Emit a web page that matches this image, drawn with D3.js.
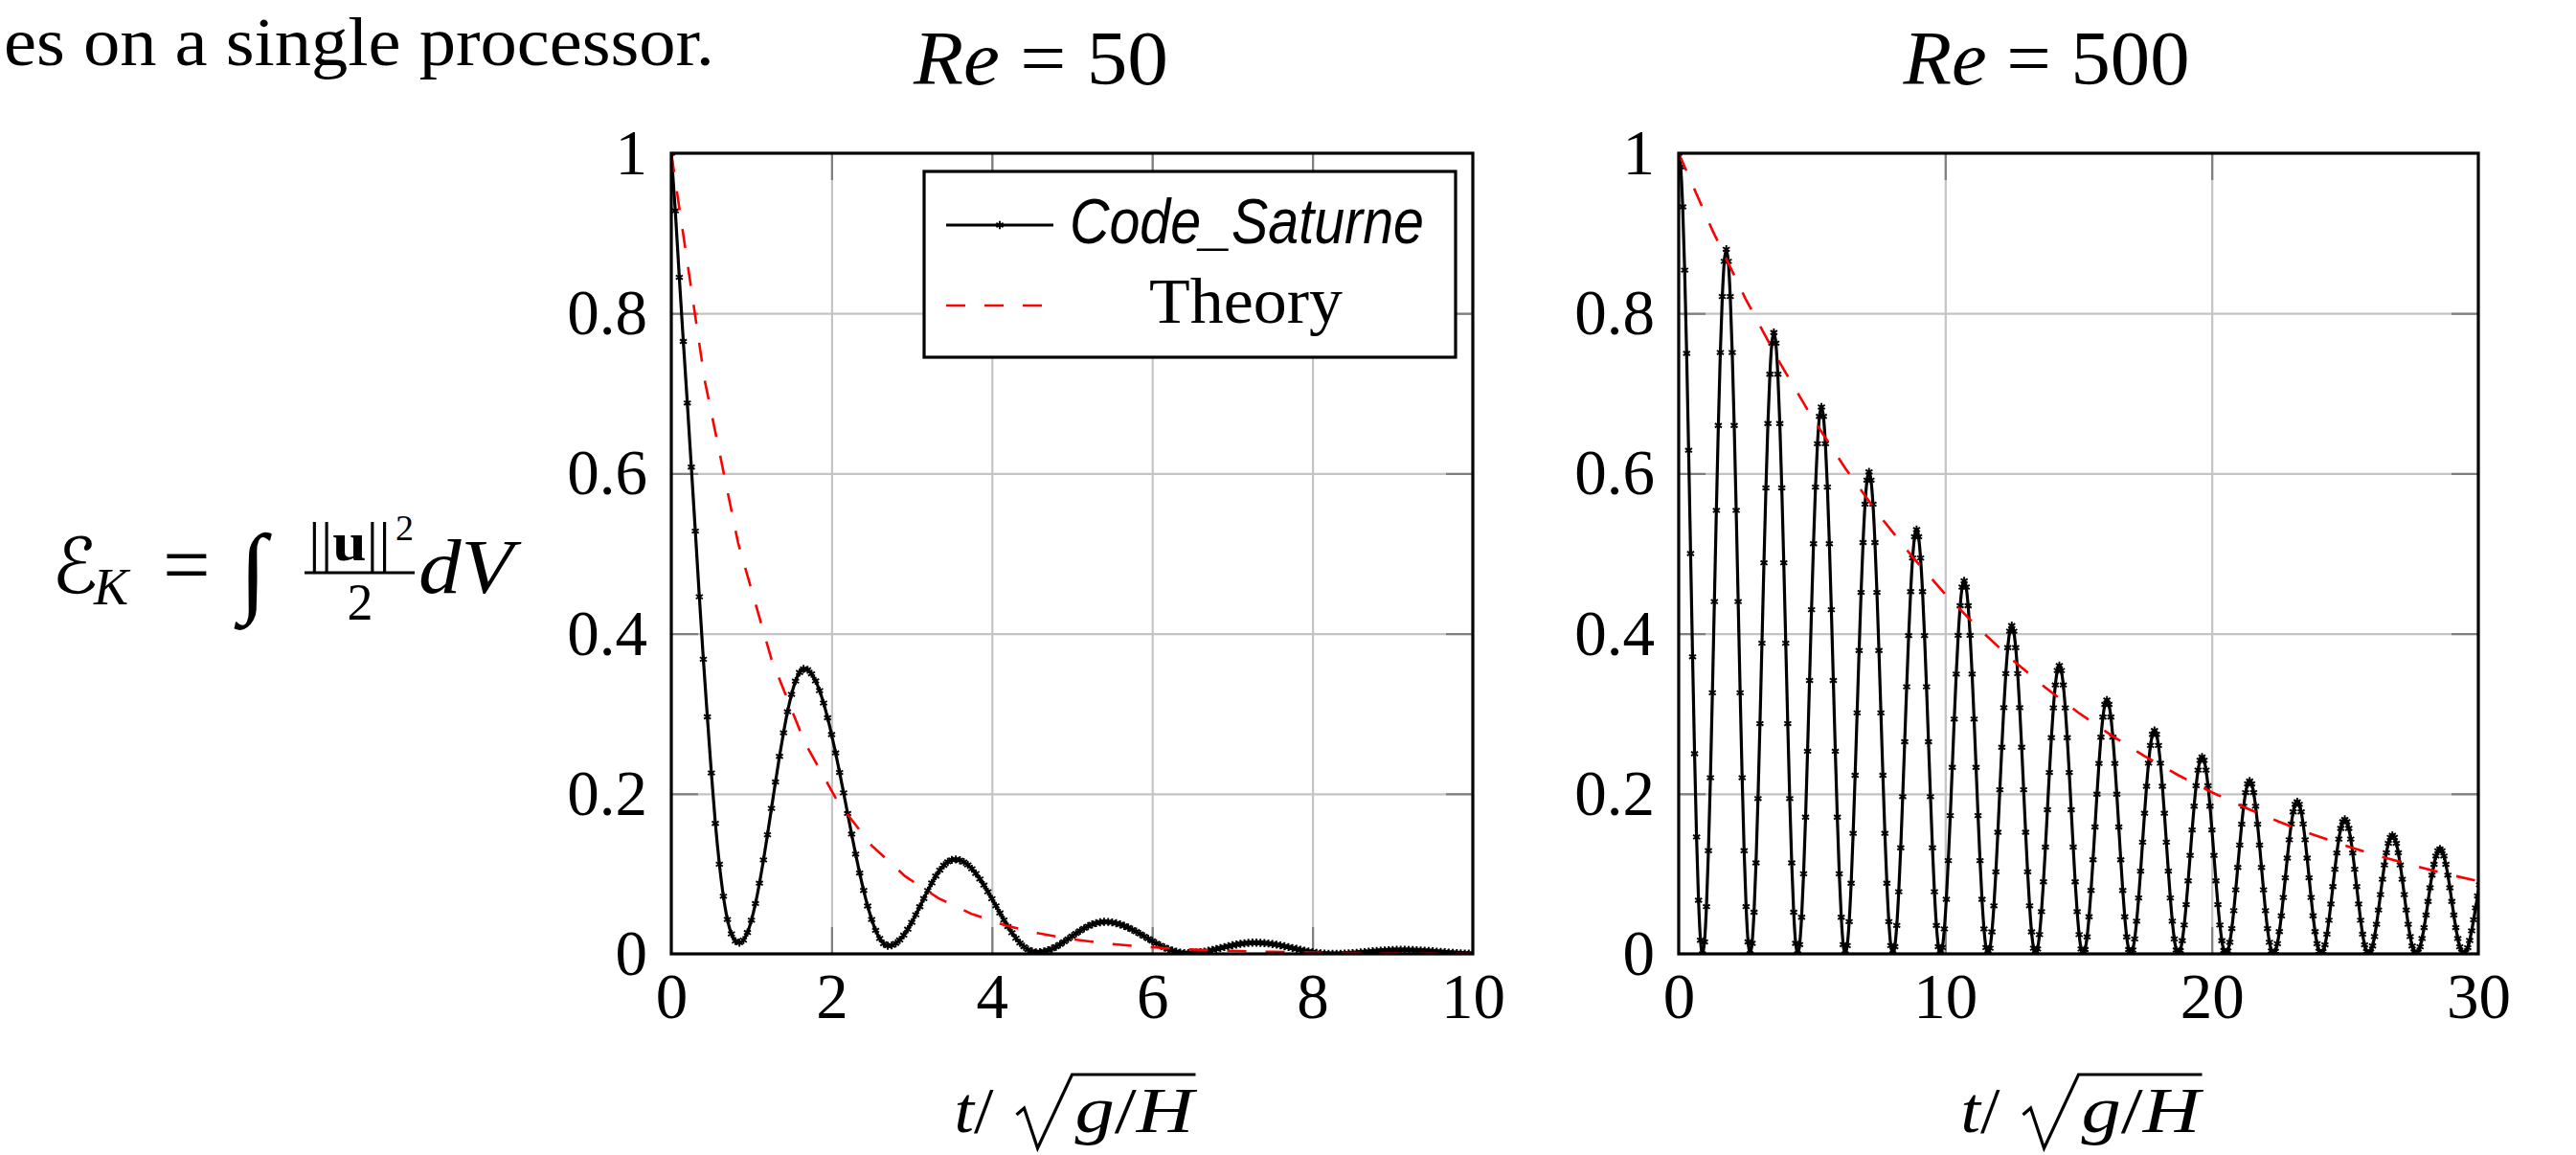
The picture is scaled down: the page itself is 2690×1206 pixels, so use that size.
<!DOCTYPE html>
<html>
<head>
<meta charset="utf-8">
<script src="https://cdn.jsdelivr.net/npm/d3@7"></script>
<style>
  body { margin: 0; background: #fff; overflow: hidden; }
  svg { display: block; }
  svg text { font-family: "Liberation Serif", serif; fill: #000; }
</style>
</head>
<body>
<svg id="fig" width="2690" height="1206"></svg>
<script>
// ---- data ----
const yTicks = [0, 0.2, 0.4, 0.6, 0.8, 1];
const xTicks50 = [0, 2, 4, 6, 8, 10];
const xTicks500 = [0, 10, 20, 30];

// Code_Saturne, Re = 50, one value every 0.05 time units
const tStep50 = 0.05;
const energy50 = [
  1.000, 0.928, 0.845, 0.765, 0.688, 0.608, 0.528, 0.446, 0.368, 0.296,
  0.226, 0.163, 0.112, 0.072, 0.043, 0.025, 0.016, 0.014, 0.0172, 0.0267,
  0.0421, 0.0629, 0.0883, 0.1173, 0.1488, 0.1817, 0.2147, 0.2467, 0.2761, 0.3024,
  0.3241, 0.3407, 0.3514, 0.3559, 0.3548, 0.3498, 0.3410, 0.3288, 0.3133, 0.2949,
  0.2739, 0.2510, 0.2266, 0.2011, 0.1753, 0.1496, 0.1246, 0.1010, 0.0792, 0.0598,
  0.0430, 0.0294, 0.0193, 0.0128, 0.0101, 0.0106, 0.0131, 0.0174, 0.0234, 0.0308,
  0.0394, 0.0489, 0.0589, 0.0691, 0.0791, 0.0886, 0.0972, 0.1046, 0.1106, 0.1149,
  0.1174, 0.1180, 0.1170, 0.1147, 0.1111, 0.1063, 0.1004, 0.0935, 0.0859, 0.0776,
  0.0689, 0.0600, 0.0511, 0.0424, 0.0341, 0.0265, 0.0196, 0.0137, 0.0089, 0.0053,
  0.0030, 0.0020, 0.0022, 0.0030, 0.0045, 0.0065, 0.0090, 0.0119, 0.0151, 0.0186,
  0.0221, 0.0255, 0.0288, 0.0319, 0.0346, 0.0368, 0.0384, 0.0395, 0.0400, 0.0399,
  0.0393, 0.0382, 0.0368, 0.0350, 0.0329, 0.0304, 0.0278, 0.0249, 0.0220, 0.0190,
  0.0161, 0.0132, 0.0106, 0.0081, 0.0060, 0.0042, 0.0028, 0.0017, 0.0011, 0.0010,
  0.0012, 0.0015, 0.0021, 0.0029, 0.0038, 0.0049, 0.0061, 0.0073, 0.0085, 0.0096,
  0.0108, 0.0117, 0.0126, 0.0132, 0.0137, 0.0140, 0.0140, 0.0138, 0.0135, 0.0130,
  0.0123, 0.0115, 0.0106, 0.0095, 0.0085, 0.0073, 0.0062, 0.0051, 0.0040, 0.0030,
  0.0022, 0.0014, 0.0008, 0.0004, 0.0001, 0.0000, 0.0000, 0.0002, 0.0004, 0.0007,
  0.0010, 0.0014, 0.0018, 0.0023, 0.0027, 0.0032, 0.0036, 0.0040, 0.0043, 0.0046,
  0.0048, 0.0050, 0.0050, 0.0050, 0.0049, 0.0047, 0.0045, 0.0043, 0.0040, 0.0036,
  0.0033, 0.0029, 0.0025, 0.0021, 0.0017, 0.0014, 0.0010, 0.0007, 0.0005, 0.0003,
  0.0001
];

// Code_Saturne, Re = 500, 24 values per sloshing period
const tStep500 = 0.074375;
const energy500 = [
  1.000, 0.983, 0.933, 0.854, 0.750, 0.629, 0.500, 0.371, 0.250, 0.146, 0.067, 0.017, 0, 0.0150, 0.0590, 0.1289, 0.220, 0.3261, 0.440, 0.5539, 0.660, 0.7511, 0.8210, 0.8650,
  0.880, 0.8650, 0.8210, 0.7511, 0.660, 0.5539, 0.440, 0.3261, 0.220, 0.1289, 0.0590, 0.0150, 0, 0.0132, 0.0520, 0.1136, 0.194, 0.2876, 0.388, 0.4884, 0.582, 0.6624, 0.7240, 0.7628,
  0.776, 0.7628, 0.7240, 0.6624, 0.582, 0.4884, 0.388, 0.2876, 0.194, 0.1136, 0.0520, 0.0132, 0, 0.0116, 0.0458, 0.1000, 0.1708, 0.2531, 0.3415, 0.4299, 0.5123, 0.5830, 0.6372, 0.6714,
  0.683, 0.6714, 0.6372, 0.5830, 0.5123, 0.4299, 0.3415, 0.2531, 0.1708, 0.1000, 0.0458, 0.0116, 0, 0.0103, 0.0403, 0.0882, 0.1505, 0.2231, 0.301, 0.3789, 0.4515, 0.5138, 0.5617, 0.5917,
  0.602, 0.5917, 0.5617, 0.5138, 0.4515, 0.3789, 0.301, 0.2231, 0.1505, 0.0882, 0.0403, 0.0103, 0, 0.0090, 0.0355, 0.0776, 0.1325, 0.1964, 0.265, 0.3336, 0.3975, 0.4524, 0.4945, 0.5210,
  0.530, 0.5210, 0.4945, 0.4524, 0.3975, 0.3336, 0.265, 0.1964, 0.1325, 0.0776, 0.0355, 0.0090, 0, 0.0079, 0.0312, 0.0682, 0.1165, 0.1727, 0.233, 0.2933, 0.3495, 0.3978, 0.4348, 0.4581,
  0.466, 0.4581, 0.4348, 0.3978, 0.3495, 0.2933, 0.233, 0.1727, 0.1165, 0.0682, 0.0312, 0.0079, 0, 0.0070, 0.0275, 0.0600, 0.1025, 0.1519, 0.205, 0.2581, 0.3075, 0.3500, 0.3825, 0.4030,
  0.410, 0.4030, 0.3825, 0.3500, 0.3075, 0.2581, 0.205, 0.1519, 0.1025, 0.0600, 0.0275, 0.0070, 0, 0.0061, 0.0241, 0.0527, 0.090, 0.1334, 0.180, 0.2266, 0.270, 0.3073, 0.3359, 0.3539,
  0.360, 0.3539, 0.3359, 0.3073, 0.270, 0.2266, 0.180, 0.1334, 0.090, 0.0527, 0.0241, 0.0061, 0, 0.0054, 0.0212, 0.0464, 0.0793, 0.1175, 0.1585, 0.1995, 0.2378, 0.2706, 0.2958, 0.3116,
  0.317, 0.3116, 0.2958, 0.2706, 0.2378, 0.1995, 0.1585, 0.1175, 0.0793, 0.0464, 0.0212, 0.0054, 0, 0.0048, 0.0187, 0.0409, 0.0698, 0.1034, 0.1395, 0.1756, 0.2093, 0.2381, 0.2603, 0.2742,
  0.279, 0.2742, 0.2603, 0.2381, 0.2093, 0.1756, 0.1395, 0.1034, 0.0698, 0.0409, 0.0187, 0.0048, 0, 0.0042, 0.0165, 0.0360, 0.0615, 0.0912, 0.123, 0.1548, 0.1845, 0.2100, 0.2295, 0.2418,
  0.246, 0.2418, 0.2295, 0.2100, 0.1845, 0.1548, 0.123, 0.0912, 0.0615, 0.0360, 0.0165, 0.0042, 0, 0.0037, 0.0145, 0.0316, 0.054, 0.0800, 0.108, 0.1360, 0.162, 0.1844, 0.2015, 0.2123,
  0.216, 0.2123, 0.2015, 0.1844, 0.162, 0.1360, 0.108, 0.0800, 0.054, 0.0316, 0.0145, 0.0037, 0, 0.0032, 0.0127, 0.0278, 0.0475, 0.0704, 0.095, 0.1196, 0.1425, 0.1622, 0.1773, 0.1868,
  0.190, 0.1868, 0.1773, 0.1622, 0.1425, 0.1196, 0.095, 0.0704, 0.0475, 0.0278, 0.0127, 0.0032, 0, 0.0029, 0.0113, 0.0246, 0.042, 0.0623, 0.084, 0.1057, 0.126, 0.1434, 0.1567, 0.1651,
  0.168, 0.1651, 0.1567, 0.1434, 0.126, 0.1057, 0.084, 0.0623, 0.042, 0.0246, 0.0113, 0.0029, 0, 0.0025, 0.0099, 0.0217, 0.037, 0.0548, 0.074, 0.0932, 0.111, 0.1263, 0.1381, 0.1455,
  0.148, 0.1455, 0.1381, 0.1263, 0.111, 0.0932, 0.074, 0.0548, 0.037, 0.0217, 0.0099, 0.0025, 0, 0.0022, 0.0088, 0.0192, 0.0328, 0.0485, 0.0655, 0.0825, 0.0983, 0.1118, 0.1222, 0.1288,
  0.131, 0.1288, 0.1222, 0.1118, 0.0983, 0.0825, 0.0655, 0.0485, 0.0328, 0.0192, 0.0088, 0.0022, 0, 0.0020, 0.0077, 0.0168, 0.0288, 0.0426, 0.0575, 0.0724, 0.0863
];

// Theory (drawn as a 25-sample polyline, like the original)
const theoryT50 = [0, 0.4167, 0.8333, 1.25, 1.6667, 2.0833, 2.5, 2.9167, 3.3333, 3.75, 4.1667, 4.5833,
  5, 5.4167, 5.8333, 6.25, 6.6667, 7.0833, 7.5, 7.9167, 8.3333, 8.75, 9.1667, 9.5833, 10];
const theory50 = [1.0000, 0.7165, 0.5134, 0.3679, 0.2636, 0.1889, 0.1353, 0.0970, 0.0695, 0.0498, 0.0357, 0.0256,
  0.0183, 0.0131, 0.0094, 0.0067, 0.0048, 0.0035, 0.0025, 0.0018, 0.0013, 0.0009, 0.0007, 0.0005, 0.0003];
const theoryT500 = [0, 1.25, 2.5, 3.75, 5, 6.25, 7.5, 8.75, 10, 11.25, 12.5, 13.75,
  15, 16.25, 17.5, 18.75, 20, 21.25, 22.5, 23.75, 25, 26.25, 27.5, 28.75, 30];
const theory500 = [1.0000, 0.9048, 0.8187, 0.7408, 0.6703, 0.6065, 0.5488, 0.4966, 0.4493, 0.4066, 0.3679, 0.3329,
  0.3012, 0.2725, 0.2466, 0.2231, 0.2019, 0.1827, 0.1653, 0.1496, 0.1353, 0.1225, 0.1108, 0.1003, 0.0907];

// ---- layout ----
const plotTop = 160, plotBottom = 996;
const gridColor = '#c4c4c4', tickColor = '#7f7f7f';
const tickLen = 28, labelSize = 67;
const markPath = 'M0,-4.2V4.2M-3.6,-2.1L3.6,2.1M-3.6,2.1L3.6,-2.1';

const panels = [
  { id: 'a', x0: 701, x1: 1538, xMax: 10, xTicks: xTicks50, re: '50', titleX: 1087, titleW: 266,
    step: tStep50, energy: energy50, theoryT: theoryT50, theory: theory50, legend: true },
  { id: 'b', x0: 1753, x1: 2588, xMax: 30, xTicks: xTicks500, re: '500', titleX: 2137, titleW: 299,
    step: tStep500, energy: energy500, theoryT: theoryT500, theory: theory500, legend: false }
];

const svg = d3.select('#fig');

function richText(parent, x, y, size, parts, anchor) {
  const t = parent.append('text')
    .attr('x', x).attr('y', y)
    .attr('font-size', size)
    .attr('text-anchor', anchor || 'start');
  parts.forEach(([s, st]) => {
    const ts = t.append('tspan').text(s);
    if (st === 'i') ts.attr('font-style', 'italic');
    if (st === 'b') ts.attr('font-weight', 'bold');
  });
  return t;
}

function styleAxis(a, color) {
  a.select('.domain').remove();
  a.attr('font-family', null).attr('font-size', null);
  a.selectAll('line').attr('stroke', color).attr('stroke-width', 2.2);
}

function drawPanel(p) {
  const x = d3.scaleLinear().domain([0, p.xMax]).range([p.x0, p.x1]);
  const y = d3.scaleLinear().domain([0, 1]).range([plotBottom, plotTop]);
  const h = plotBottom - plotTop;
  const g = svg.append('g');
  const inner = p.xTicks.slice(1, -1);
  const innerY = yTicks.slice(1, -1);

  // grid
  g.append('g').attr('transform', `translate(0,${plotBottom})`)
    .call(d3.axisBottom(x).tickValues(inner).tickSize(-h).tickFormat(''))
    .call(a => styleAxis(a, gridColor));
  g.append('g').attr('transform', `translate(${p.x0},0)`)
    .call(d3.axisLeft(y).tickValues(innerY).tickSize(-(p.x1 - p.x0)).tickFormat(''))
    .call(a => styleAxis(a, gridColor));

  // inward ticks on all four sides
  g.append('g').attr('transform', `translate(0,${plotBottom})`)
    .call(d3.axisBottom(x).tickValues(inner).tickSize(-tickLen).tickFormat(''))
    .call(a => styleAxis(a, tickColor));
  g.append('g').attr('transform', `translate(0,${plotTop})`)
    .call(d3.axisTop(x).tickValues(inner).tickSize(-tickLen).tickFormat(''))
    .call(a => styleAxis(a, tickColor));
  g.append('g').attr('transform', `translate(${p.x0},0)`)
    .call(d3.axisLeft(y).tickValues(innerY).tickSize(-tickLen).tickFormat(''))
    .call(a => styleAxis(a, tickColor));
  g.append('g').attr('transform', `translate(${p.x1},0)`)
    .call(d3.axisRight(y).tickValues(innerY).tickSize(-tickLen).tickFormat(''))
    .call(a => styleAxis(a, tickColor));

  // curves
  g.append('clipPath').attr('id', 'clip-' + p.id)
    .append('rect').attr('x', p.x0).attr('y', plotTop).attr('width', p.x1 - p.x0).attr('height', h);
  const plot = g.append('g').attr('clip-path', `url(#clip-${p.id})`);

  const line = d3.line()
    .x((d, i) => x(i * p.step))
    .y(d => y(d))
    .curve(d3.curveMonotoneX);
  plot.append('path').datum(p.energy)
    .attr('d', line)
    .attr('fill', 'none').attr('stroke', '#000').attr('stroke-width', 3.2)
    .attr('stroke-linejoin', 'round');
  plot.append('g').selectAll('path').data(p.energy).join('path')
    .attr('d', markPath)
    .attr('transform', (d, i) => `translate(${x(i * p.step)},${y(d)})`)
    .attr('fill', 'none').attr('stroke', '#000').attr('stroke-width', 1.9);

  const theoryLine = d3.line().x((d, i) => x(p.theoryT[i])).y(d => y(d));
  plot.append('path').datum(p.theory)
    .attr('d', theoryLine)
    .attr('fill', 'none').attr('stroke', '#ff0000').attr('stroke-width', 2.6)
    .attr('stroke-dasharray', '20 20');

  // frame
  g.append('rect')
    .attr('x', p.x0).attr('y', plotTop).attr('width', p.x1 - p.x0).attr('height', h)
    .attr('fill', 'none').attr('stroke', '#000').attr('stroke-width', 3.2);

  // tick labels
  g.append('g').attr('transform', `translate(0,${plotBottom})`)
    .call(d3.axisBottom(x).tickValues(p.xTicks).tickSize(0).tickPadding(19).tickFormat(d => String(d)))
    .call(a => { a.select('.domain').remove(); a.attr('font-family', null).attr('font-size', labelSize); })
    .selectAll('text').attr('fill', '#000');
  g.append('g').attr('transform', `translate(${p.x0},0)`)
    .call(d3.axisLeft(y).tickValues(yTicks).tickSize(0).tickPadding(25).tickFormat(d => String(d)))
    .call(a => { a.select('.domain').remove(); a.attr('font-family', null).attr('font-size', labelSize); })
    .selectAll('text').attr('fill', '#000');

  // title
  richText(svg, p.titleX, 88, 80, [['Re', 'i'], [' = ' + p.re, '']], 'middle')
    .attr('textLength', p.titleW).attr('lengthAdjust', 'spacingAndGlyphs');

  // x label  t / sqrt(g/H)
  const cx = (p.x0 + p.x1) / 2 + 1;
  const lab = svg.append('g');
  richText(lab, cx - 124, 1182, labelSize, [['t', 'i'], ['/', '']])
    .attr('textLength', 41).attr('lengthAdjust', 'spacingAndGlyphs');
  richText(lab, cx + 2, 1182, labelSize, [['g', 'i'], ['/', ''], ['H', 'i']])
    .attr('textLength', 124).attr('lengthAdjust', 'spacingAndGlyphs');
  lab.append('path')
    .attr('d', `M${cx - 59},1164L${cx - 51},1157L${cx - 37},1199L${cx - 1},1122H${cx + 128}`)
    .attr('fill', 'none').attr('stroke', '#000').attr('stroke-width', 3.2).attr('stroke-linejoin', 'miter');

  if (p.legend) drawLegend(g);
}

function drawLegend(g) {
  const lg = g.append('g');
  lg.append('rect').attr('x', 965).attr('y', 179).attr('width', 555).attr('height', 194)
    .attr('fill', '#fff').attr('stroke', '#000').attr('stroke-width', 3.2);
  lg.append('line').attr('x1', 988).attr('x2', 1100).attr('y1', 235).attr('y2', 235)
    .attr('stroke', '#000').attr('stroke-width', 3);
  lg.append('path').attr('d', markPath).attr('transform', 'translate(1044,235)')
    .attr('fill', 'none').attr('stroke', '#000').attr('stroke-width', 1.9);
  lg.append('line').attr('x1', 988).attr('x2', 1090).attr('y1', 319).attr('y2', 319)
    .attr('stroke', '#ff0000').attr('stroke-width', 2.6).attr('stroke-dasharray', '20 20');
  richText(lg, 1302, 254, 66, [['Code_Saturne', 'i']], 'middle')
    .style('font-family', '"Liberation Sans", sans-serif')
    .attr('textLength', 370).attr('lengthAdjust', 'spacingAndGlyphs');
  richText(lg, 1301, 337, 67, [['Theory', '']], 'middle')
    .attr('textLength', 202).attr('lengthAdjust', 'spacingAndGlyphs');
}

panels.forEach(drawPanel);

// running text at the top of the page
richText(svg, 4, 68, 72, [['es on a single processor.', '']])
  .attr('textLength', 742).attr('lengthAdjust', 'spacingAndGlyphs');

// y label  E_K = int ||u||^2 / 2 dV
const yl = svg.append('g');
richText(yl, 54, 619, 80, [['ℰ', '']]).style('font-family', '"DejaVu Serif", "DejaVu Sans", serif');
richText(yl, 98, 631, 54, [['K', 'i']]);
richText(yl, 170, 619, 88, [['=', '']]);
richText(yl, 250, 630, 104, [['∫', '']]);
richText(yl, 322, 585, 56, [['||', ''], ['u', 'b'], ['||', '']])
  .attr('textLength', 86).attr('lengthAdjust', 'spacingAndGlyphs');
richText(yl, 413, 564, 38, [['2', '']]);
yl.append('line').attr('x1', 318).attr('x2', 433).attr('y1', 598).attr('y2', 598)
  .attr('stroke', '#000').attr('stroke-width', 3);
richText(yl, 376, 647, 54, [['2', '']], 'middle');
richText(yl, 437, 619, 80, [['dV', 'i']]).attr('textLength', 99).attr('lengthAdjust', 'spacingAndGlyphs');
</script>
</body>
</html>
